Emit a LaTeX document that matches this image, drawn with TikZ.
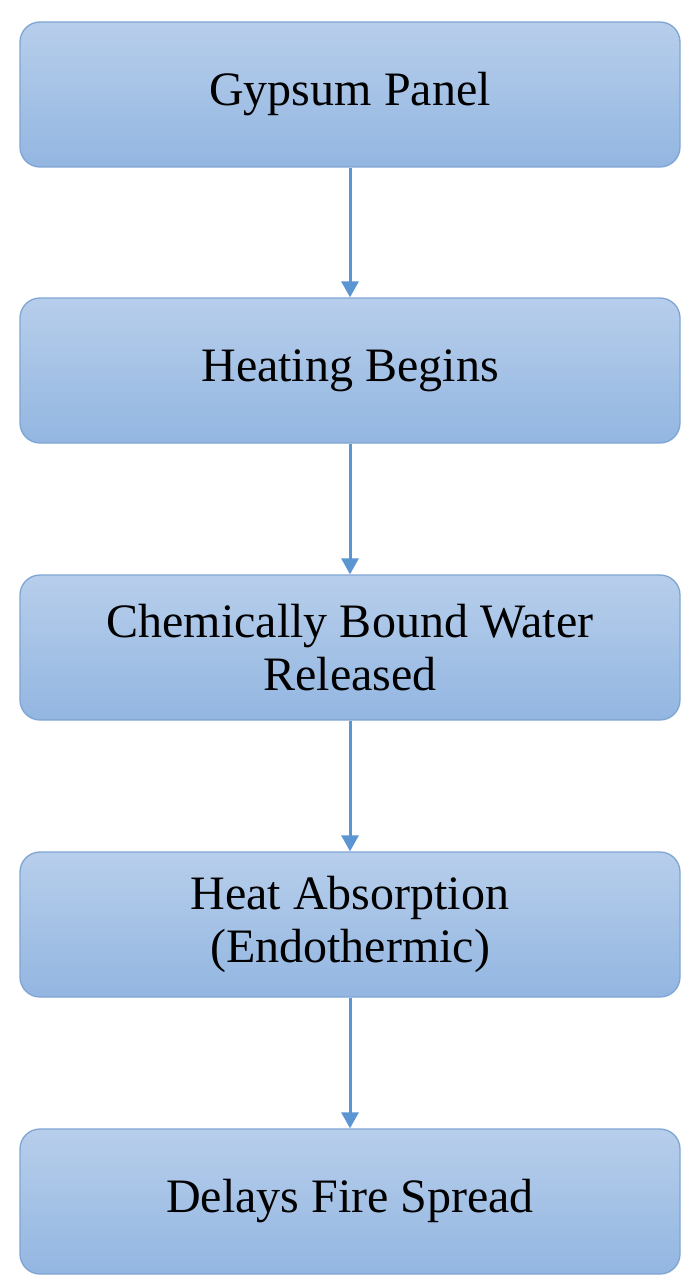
\documentclass[tikz,border=0pt]{standalone}
\usepackage{fontspec}
\setmainfont{Liberation Serif}
\usetikzlibrary{arrows.meta,positioning}
\definecolor{boxtop}{HTML}{B7CEEB}
\definecolor{boxbot}{HTML}{93B6E1}
\definecolor{boxline}{HTML}{7FA5D4}
\definecolor{arrowc}{HTML}{5B95D2}
\begin{document}
\begin{tikzpicture}[x=1pt,y=-1pt,
  stepbox/.style={draw=boxline, line width=1.3pt, rounded corners=20pt,
    top color=boxtop, bottom color=boxbot,
    minimum width=660pt, minimum height=145pt, inner sep=0pt,
    align=center, font=\fontsize{48}{53}\selectfont, text=black},
  flow/.style={draw=arrowc, line width=3pt,
    -{Triangle[width=17pt,length=16pt]}, shorten >=0pt}]
\useasboundingbox (0,0) rectangle (685,1284);
\node[stepbox] (a) at (350,94.5) {Gypsum Panel};
\node[stepbox] (b) at (350,370.5) {Heating Begins};
\node[stepbox] (c) at (350,647.5) {Chemically Bound Water\\Released};
\node[stepbox] (d) at (350,924.5) {Heat Absorption\\(Endothermic)};
\node[stepbox] (e) at (350,1201.5) {Delays Fire Spread};
\draw[flow] (a) -- (b);
\draw[flow] (b) -- (c);
\draw[flow] (c) -- (d);
\draw[flow] (d) -- (e);
\end{tikzpicture}
\end{document}
